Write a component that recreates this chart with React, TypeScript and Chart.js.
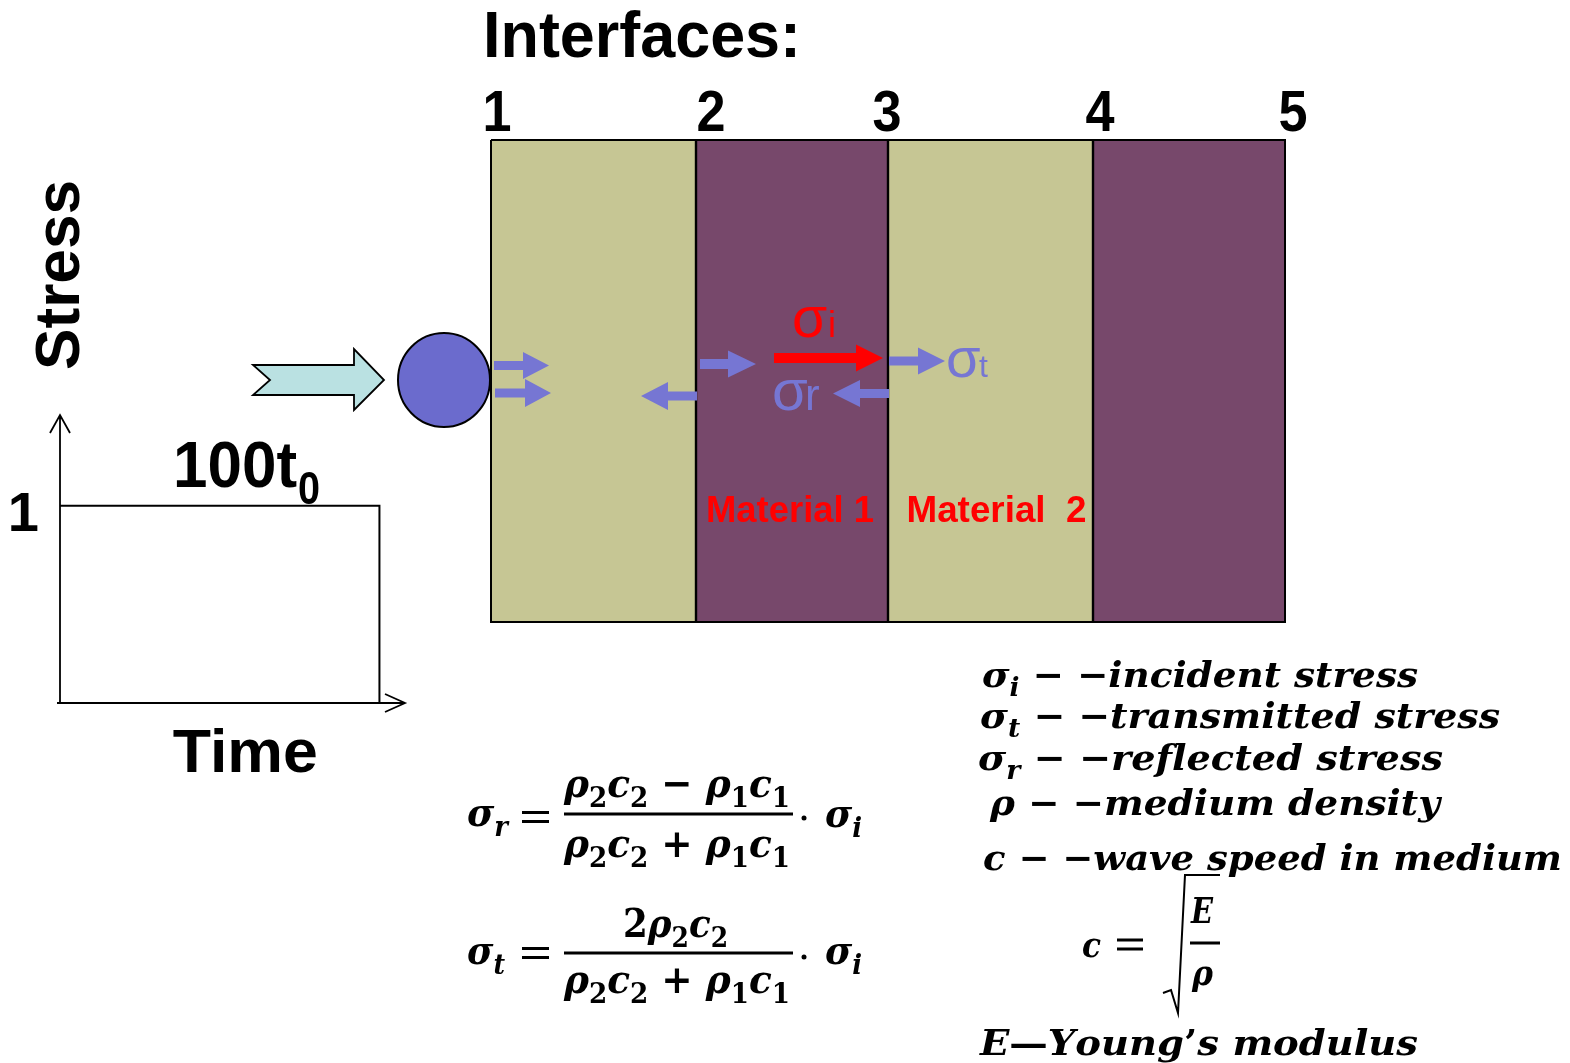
import React, { useEffect, useRef } from 'react';
import { Chart, registerables } from 'chart.js';

Chart.register(...registerables);

const W = 1570;
const H = 1063;

// ---- Stress pulse (time in t0 units, stress normalised) ----
const pulseTime = [0, 100, 100];
const pulseStress = [1, 1, 0];
const stressTicks = [1];
const timeAxisMax = 108;
const stressAxisMax = 1.46;

// ---- Layered specimen ----
const interfaceLabels = ['1', '2', '3', '4', '5'];
const interfacePositions = [491, 696, 888, 1093, 1285];
const layerMaterials = [2, 1, 2, 1];
const layerTexts = ['', 'Material 1', 'Material  2', ''];
const specimenTop = 140;
const specimenBottom = 622;

// ---- Legend / formula texts ----
const legendLines = [
  'σ_i − −incident stress',
  'σ_t − −transmitted stress',
  'σ_r − −reflected stress',
  'ρ − −medium density',
  'c − −wave speed in medium',
];
const reflectedNum = 'ρ_2c_2 − ρ_1c_1';
const commonDen = 'ρ_2c_2 + ρ_1c_1';
const transmittedNum = '2ρ_2c_2';
const youngLine = 'E—Young’s modulus';

const MATERIAL_COLORS: Record<number, string> = { 1: '#77486B', 2: '#C6C694' };
const BLUE = '#7676D3';
const SANS = '"Liberation Sans", Arial, sans-serif';
const SERIF = '"DejaVu Serif", serif';
const LABEL_NUDGE = [6, 15, -1, 7, 8];

function fitText(ctx: CanvasRenderingContext2D, text: string, x: number, y: number, font: string, width?: number, align: 'left' | 'center' | 'right' = 'left') {
  ctx.font = font;
  const w = ctx.measureText(text).width;
  const sx = width ? width / w : 1;
  ctx.save();
  ctx.translate(x, y);
  ctx.scale(sx, 1);
  ctx.textAlign = 'left';
  ctx.textBaseline = 'alphabetic';
  const off = align === 'center' ? -w / 2 : align === 'right' ? -w : 0;
  ctx.fillText(text, off, 0);
  ctx.restore();
}

function mathText(ctx: CanvasRenderingContext2D, src: string, x: number, y: number, size: number, width?: number) {
  const items: { t: string; sub: boolean }[] = [];
  for (let i = 0; i < src.length; i++) {
    if (src[i] === '_') {
      items.push({ t: src[i + 1], sub: true });
      i++;
    } else items.push({ t: src[i], sub: false });
  }
  const fontFor = (it: { t: string; sub: boolean }) => {
    const up = /[0-9+−=·—’ ]/.test(it.t);
    const s = it.sub ? size * 0.7 : size;
    return `${up ? '' : 'italic '}bold ${s}px ${SERIF}`;
  };
  const widths = items.map((it) => {
    ctx.font = fontFor(it);
    return ctx.measureText(it.t).width;
  });
  const total = widths.reduce((a, b) => a + b, 0);
  const sx = width ? width / total : 1;
  ctx.save();
  ctx.translate(x, y);
  ctx.scale(sx, 1);
  ctx.textAlign = 'left';
  ctx.textBaseline = 'alphabetic';
  let cx = 0;
  items.forEach((it, i) => {
    ctx.font = fontFor(it);
    ctx.fillText(it.t, cx, it.sub ? size * 0.24 : 0);
    cx += widths[i];
  });
  ctx.restore();
}

function blockArrow(ctx: CanvasRenderingContext2D, x0: number, x1: number, y: number, shaft: number, head: number, headLen: number, color: string) {
  const d = Math.sign(x1 - x0);
  const hb = x1 - d * headLen;
  ctx.beginPath();
  ctx.moveTo(x0, y - shaft / 2);
  ctx.lineTo(hb, y - shaft / 2);
  ctx.lineTo(hb, y - head / 2);
  ctx.lineTo(x1, y);
  ctx.lineTo(hb, y + head / 2);
  ctx.lineTo(hb, y + shaft / 2);
  ctx.lineTo(x0, y + shaft / 2);
  ctx.closePath();
  ctx.fillStyle = color;
  ctx.fill();
}

const diagramPlugin = {
  id: 'diagram',
  afterDatasetsDraw(chart: any) {
    const ctx: CanvasRenderingContext2D = chart.ctx;
    const xs = chart.scales.x;
    const ys = chart.scales.y;
    const X = (v: number) => xs.getPixelForValue(v);
    const Y = (v: number) => ys.getPixelForValue(v);
    ctx.save();

    // Title and interface numbers
    ctx.fillStyle = '#000';
    fitText(ctx, 'Interfaces:', X(483), Y(57), `bold 65px ${SANS}`, 318);
    interfaceLabels.forEach((lab, i) => {
      fitText(ctx, lab, X(interfacePositions[i] + LABEL_NUDGE[i]), Y(131), `bold 58px ${SANS}`, 29, 'center');
    });

    // Material labels
    ctx.fillStyle = '#FF0000';
    layerTexts.forEach((t, i) => {
      if (!t) return;
      const cx = (X(interfacePositions[i]) + X(interfacePositions[i + 1])) / 2;
      fitText(ctx, t, cx + (t.length > 10 ? 6 : -2), Y(522), `bold 37px ${SANS}`, t.length > 10 ? 180 : 168, 'center');
    });

    // Incoming big arrow
    ctx.beginPath();
    ctx.moveTo(X(253), Y(365));
    ctx.lineTo(X(354), Y(365));
    ctx.lineTo(X(354), Y(349));
    ctx.lineTo(X(384), Y(380));
    ctx.lineTo(X(354), Y(410));
    ctx.lineTo(X(354), Y(395));
    ctx.lineTo(X(253), Y(395));
    ctx.lineTo(X(270), Y(380));
    ctx.closePath();
    ctx.fillStyle = '#BAE1E2';
    ctx.fill();
    ctx.lineWidth = 1.8;
    ctx.strokeStyle = '#000';
    ctx.stroke();

    // Impactor
    ctx.beginPath();
    ctx.ellipse(X(444), Y(380), 46, 47, 0, 0, Math.PI * 2);
    ctx.fillStyle = '#6B6BCD';
    ctx.fill();
    ctx.lineWidth = 2;
    ctx.stroke();

    // Wave arrows
    blockArrow(ctx, X(494), X(549), Y(365.5), 9, 27, 26, BLUE);
    blockArrow(ctx, X(495), X(551), Y(393), 9, 28, 26, BLUE);
    blockArrow(ctx, X(700), X(756), Y(364), 10, 27, 28, BLUE);
    blockArrow(ctx, X(697), X(641), Y(396), 9, 28, 27, BLUE);
    blockArrow(ctx, X(774), X(883), Y(358), 10, 27, 27, '#FF0000');
    blockArrow(ctx, X(889), X(945), Y(361), 9, 27, 27, BLUE);
    blockArrow(ctx, X(889), X(833), Y(393.5), 9, 27, 27, BLUE);

    // Sigma labels
    ctx.fillStyle = '#FF0000';
    fitText(ctx, 'σ', X(792), Y(337), `57px ${SANS}`);
    fitText(ctx, 'i', X(828), Y(337), `36px ${SANS}`);
    ctx.fillStyle = BLUE;
    fitText(ctx, 'σ', X(946), Y(377), `56px ${SANS}`);
    fitText(ctx, 't', X(979), Y(377), `32px ${SANS}`);
    fitText(ctx, 'σ', X(772), Y(410), `58px ${SANS}`);
    fitText(ctx, 'r', X(805), Y(410), `44px ${SANS}`);

    // Formulas
    ctx.fillStyle = '#000';
    ctx.strokeStyle = '#000';
    const fs = 40;
    const eq = (cx0: number, cx1: number, cy: number) => {
      ctx.fillRect(X(cx0), Y(cy) - 6, X(cx1) - X(cx0), 3);
      ctx.fillRect(X(cx0), Y(cy) + 3, X(cx1) - X(cx0), 3);
    };
    const bar = (x0: number, x1: number, y: number) => {
      ctx.fillRect(X(x0), Y(y) - 1.5, X(x1) - X(x0), 3);
    };
    const dot = (x: number, y: number) => {
      ctx.beginPath();
      ctx.arc(X(x), Y(y), 2.5, 0, Math.PI * 2);
      ctx.fill();
    };
    // sigma_r formula
    mathText(ctx, 'σ_r', X(467), Y(826), fs, 41);
    eq(522, 549, 817);
    mathText(ctx, reflectedNum, X(564), Y(797), fs, 226);
    bar(564, 793, 814);
    mathText(ctx, commonDen, X(564), Y(857), fs, 226);
    dot(804, 818);
    mathText(ctx, 'σ_i', X(825), Y(827), fs, 37);
    // sigma_t formula
    mathText(ctx, 'σ_t', X(467), Y(964), fs, 38);
    eq(522, 549, 953);
    mathText(ctx, transmittedNum, X(623), Y(937), fs, 105);
    bar(564, 793, 953);
    mathText(ctx, commonDen, X(564), Y(993), fs, 226);
    dot(804, 957);
    mathText(ctx, 'σ_i', X(825), Y(964), fs, 37);

    // Legend
    const ls = 36;
    const legendPos = [
      [982, 687, 436],
      [980, 728, 520],
      [978, 770, 465],
      [990, 815, 450],
      [983, 870, 579],
    ];
    legendLines.forEach((t, i) => {
      const [lx, ly, lw] = legendPos[i];
      mathText(ctx, t, X(lx), Y(ly), ls, lw);
    });
    // c = sqrt(E/rho)
    mathText(ctx, 'c', X(1082), Y(957), ls, 19);
    eq(1117, 1143, 944.5);
    ctx.lineWidth = 2;
    ctx.beginPath();
    ctx.moveTo(X(1163), Y(993));
    ctx.lineTo(X(1171), Y(990));
    ctx.lineTo(X(1178), Y(1013));
    ctx.lineTo(X(1185), Y(875));
    ctx.lineTo(X(1220), Y(875));
    ctx.stroke();
    mathText(ctx, 'E', X(1191), Y(923), ls, 22);
    bar(1190, 1220, 943);
    mathText(ctx, 'ρ', X(1192), Y(985), ls, 21);
    mathText(ctx, youngLine, X(980), Y(1055), ls, 438);

    ctx.restore();
  },
};

const stressPlugin = {
  id: 'stressAxes',
  afterDatasetsDraw(chart: any) {
    const ctx: CanvasRenderingContext2D = chart.ctx;
    const xs = chart.scales.x;
    const ys = chart.scales.y;
    const X = (v: number) => xs.getPixelForValue(v);
    const Y = (v: number) => ys.getPixelForValue(v);
    const x0 = X(0);
    const y0 = Y(0);
    const yTop = Y(ys.max);
    const xEnd = X(xs.max);
    ctx.save();
    ctx.strokeStyle = '#000';
    ctx.lineWidth = 1.8;
    ctx.beginPath();
    ctx.moveTo(x0, y0);
    ctx.lineTo(x0, yTop);
    ctx.moveTo(x0 - 10, yTop + 18);
    ctx.lineTo(x0, yTop);
    ctx.lineTo(x0 + 10, yTop + 18);
    ctx.moveTo(x0 - 3, y0);
    ctx.lineTo(xEnd, y0);
    ctx.moveTo(xEnd - 20, y0 - 9);
    ctx.lineTo(xEnd, y0);
    ctx.lineTo(xEnd - 20, y0 + 9);
    ctx.stroke();

    ctx.fillStyle = '#000';
    stressTicks.forEach((t) => {
      fitText(ctx, String(t), x0 - 21, Y(t) + 25, `bold 56px ${SANS}`, undefined, 'right');
    });
    // pulse duration label
    fitText(ctx, '100t', X(35.4), Y(1) - 19, `bold 64px ${SANS}`, 124);
    fitText(ctx, '0', X(74.5), Y(1) - 2, `bold 46px ${SANS}`, 22);
    // axis titles
    fitText(ctx, 'Time', X(58), y0 + 69, `bold 62px ${SANS}`, 145, 'center');
    ctx.save();
    ctx.translate(x0 + 19, yTop - 140);
    ctx.rotate(-Math.PI / 2);
    fitText(ctx, 'Stress', 0, 0, `bold 63px ${SANS}`, 190, 'center');
    ctx.restore();
    ctx.restore();
  },
};

export default function App() {
  const mainRef = useRef<HTMLCanvasElement>(null);
  const stressRef = useRef<HTMLCanvasElement>(null);

  useEffect(() => {
    const layerDatasets = layerMaterials.map((m, i) => ({
      data: [
        { x: interfacePositions[i], y: specimenTop },
        { x: interfacePositions[i + 1], y: specimenTop },
      ],
      backgroundColor: MATERIAL_COLORS[m],
      borderWidth: 0,
      pointRadius: 0,
      fill: { value: specimenBottom },
      order: 2,
    }));
    const first = interfacePositions[0];
    const last = interfacePositions[interfacePositions.length - 1];
    const outline = {
      data: [
        { x: first, y: specimenTop },
        { x: last, y: specimenTop },
        { x: last, y: specimenBottom },
        { x: first, y: specimenBottom },
        { x: first, y: specimenTop },
      ],
      borderColor: '#000',
      borderWidth: 2,
      pointRadius: 0,
      fill: false,
      order: 0,
    };
    const interfaceLines = interfacePositions.slice(1, -1).map((p) => ({
      data: [
        { x: p, y: specimenTop },
        { x: p, y: specimenBottom },
      ],
      borderColor: '#000',
      borderWidth: 2.4,
      pointRadius: 0,
      fill: false,
      order: 1,
    }));

    const main = new Chart(mainRef.current as HTMLCanvasElement, {
      type: 'line',
      data: { datasets: [outline, ...interfaceLines, ...layerDatasets] as any },
      options: {
        responsive: false,
        animation: false,
        events: [],
        layout: { padding: 0 },
        plugins: { legend: { display: false }, tooltip: { enabled: false } },
        scales: {
          x: { type: 'linear', min: 0, max: W, display: false },
          y: { type: 'linear', min: 0, max: H, reverse: true, display: false },
        },
      },
      plugins: [diagramPlugin],
    } as any);

    const stress = new Chart(stressRef.current as HTMLCanvasElement, {
      type: 'line',
      data: {
        datasets: [
          {
            data: pulseTime.map((t, i) => ({ x: t, y: pulseStress[i] })),
            borderColor: '#000',
            borderWidth: 2,
            pointRadius: 0,
            fill: false,
          },
        ],
      },
      options: {
        responsive: false,
        animation: false,
        events: [],
        layout: { padding: { left: 60, top: 255, right: 25, bottom: 97 } },
        plugins: { legend: { display: false }, tooltip: { enabled: false } },
        scales: {
          x: { type: 'linear', min: 0, max: timeAxisMax, display: false },
          y: { type: 'linear', min: 0, max: stressAxisMax, display: false },
        },
      },
      plugins: [stressPlugin],
    } as any);

    return () => {
      main.destroy();
      stress.destroy();
    };
  }, []);

  return (
    <div style={{ position: 'absolute', left: 0, top: 0, width: W, height: H, background: '#fff', overflow: 'hidden' }}>
      <canvas ref={mainRef} width={W} height={H} style={{ position: 'absolute', left: 0, top: 0 }} />
      <canvas ref={stressRef} width={430} height={640} style={{ position: 'absolute', left: 0, top: 160 }} />
    </div>
  );
}
